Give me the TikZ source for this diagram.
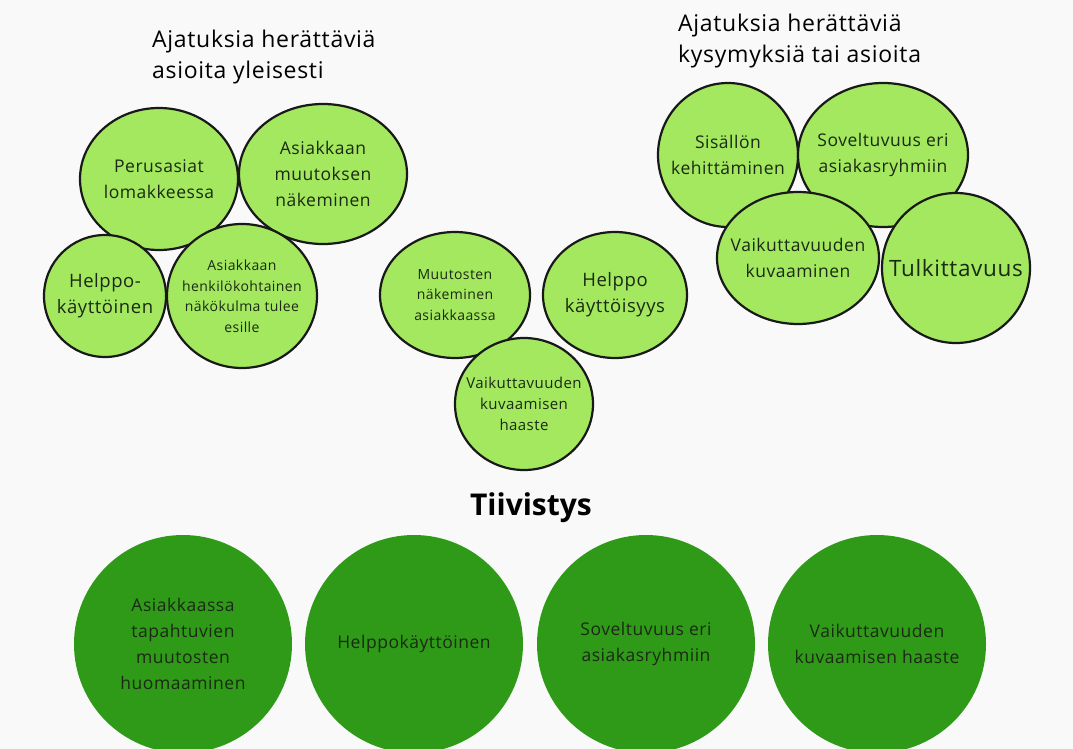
\documentclass[tikz,border=0pt]{standalone}
\usepackage{fontspec}
\setmainfont{Open Sans}[LetterSpace=3]
\usepackage{tikz}
\usetikzlibrary{shapes.geometric}

\definecolor{paper}{HTML}{F9F9F9}
\definecolor{lightgreen}{HTML}{A3E85E}
\definecolor{darkgreen}{HTML}{2F9A18}
\definecolor{inktext}{HTML}{1B2A14}

\tikzset{
    idea/.style 2 args={ellipse, draw=black!90, line width=2.2pt, fill=lightgreen,
        minimum width=2*#1, minimum height=2*#2, inner sep=0pt},
    summary/.style={circle, fill=darkgreen, minimum width=218, minimum height=204, inner sep=0pt},
    txt/.style={align=center, text=inktext, inner sep=0pt},
    heading/.style={align=left, anchor=north west, inner sep=0pt, font=\fontsize{23}{31}\selectfont}
}

\begin{document}
\begin{tikzpicture}[x=1pt,y=-1pt]
    \fill[paper] (0,0) rectangle (1073,749);
    \useasboundingbox (0,0) rectangle (1073,749);

    % otsikot
    \node[heading] (left title) at (152,30) {Ajatuksia herättäviä\\asioita yleisesti};
    \node[heading] (right title) at (678,14) {Ajatuksia herättäviä\\kysymyksiä tai asioita};

    % vasen ryhmä
    \node[idea={79}{71}] (perus) at (159,179) {};
    \node[txt, font=\fontsize{17.5}{26}\selectfont] (perus text) at (perus) {Perusasiat\\lomakkeessa};
    \node[idea={84}{70}] (muutos) at (323,174) {};
    \node[txt, font=\fontsize{17.5}{26}\selectfont] (muutos text) at (muutos) {Asiakkaan\\muutoksen\\näkeminen};
    \node[idea={61}{61}] (helppo) at (105,296) {};
    \node[txt, font=\fontsize{18.5}{26}\selectfont] (helppo text) at (helppo) {Helppo-\\käyttöinen};
    \node[idea={75}{72}] (henk) at (242,296) {};
    \node[txt, font=\fontsize{14}{20.5}\selectfont] (henk text) at (henk) {Asiakkaan\\henkilökohtainen\\näkökulma tulee\\esille};

    % keskiryhmä
    \node[idea={75}{63}] (muutokset) at (455,295) {};
    \node[txt, font=\fontsize{14}{20.5}\selectfont] (muutokset text) at (muutokset) {Muutosten\\näkeminen\\asiakkaassa};
    \node[idea={72}{63}] (kaytto) at (615,295) {};
    \node[txt, font=\fontsize{18.5}{26}\selectfont] (kaytto text) at (kaytto) {Helppo\\käyttöisyys};
    \node[idea={69}{66}] (haaste) at (524,404) {};
    \node[txt, font=\fontsize{15}{21}\selectfont] (haaste text) at (haaste) {Vaikuttavuuden\\kuvaamisen\\haaste};

    % oikea ryhmä
    \node[idea={70}{72}] (sisalto) at (728,155) {};
    \node[txt, font=\fontsize{17.5}{26}\selectfont] (sisalto text) at (sisalto) {Sisällön\\kehittäminen};
    \node[idea={85}{72}] (soveltuvuus) at (883,155) {};
    \node[txt, font=\fontsize{17.5}{26}\selectfont] (soveltuvuus text) at (soveltuvuus) {Soveltuvuus eri\\asiakasryhmiin};
    \node[idea={81}{66}] (kuvaaminen) at (798,258) {};
    \node[txt, font=\fontsize{17.5}{26}\selectfont] (kuvaaminen text) at (kuvaaminen) {Vaikuttavuuden\\kuvaaminen};
    \node[idea={74}{75}] (tulkinta) at (956,268) {};
    \node[txt, font=\fontsize{22.5}{26}\selectfont] (tulkinta text) at (tulkinta) {Tulkittavuus};

    % tiivistys
    \node[inner sep=0pt, font=\fontsize{30}{36}\selectfont\bfseries\addfontfeature{LetterSpace=0}] (tiivistys) at (531,508) {Tiivistys};
    \node[summary] (s1) at (183,644) {};
    \node[txt, font=\fontsize{17.5}{26}\selectfont] (s1 text) at (s1) {Asiakkaassa\\tapahtuvien\\muutosten\\huomaaminen};
    \node[summary] (s2) at (414,644) {};
    \node[txt, font=\fontsize{17.5}{26}\selectfont] (s2 text) at (s2) {Helppokäyttöinen};
    \node[summary] (s3) at (646,644) {};
    \node[txt, font=\fontsize{17.5}{26}\selectfont] (s3 text) at (s3) {Soveltuvuus eri\\asiakasryhmiin};
    \node[summary] (s4) at (877,644) {};
    \node[txt, font=\fontsize{17.5}{26}\selectfont] (s4 text) at (s4) {Vaikuttavuuden\\kuvaamisen haaste};
\end{tikzpicture}
\end{document}
